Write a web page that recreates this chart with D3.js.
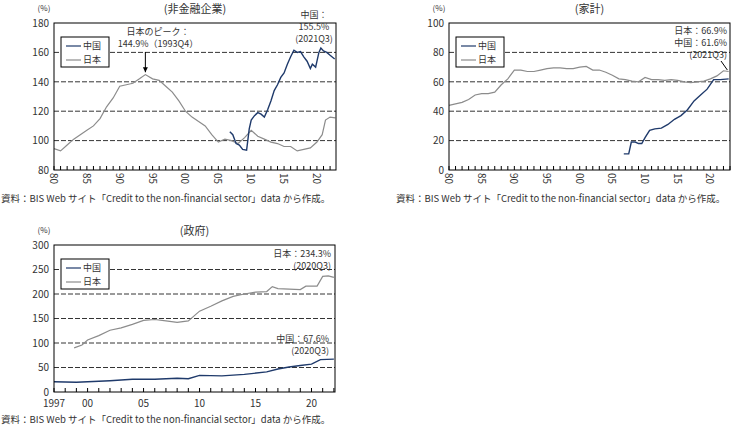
<!DOCTYPE html>
<html><head><meta charset="utf-8">
<script src="https://cdn.jsdelivr.net/npm/d3@7"></script>
<style>
body{margin:0;background:#fff;font-family:"Noto Sans CJK JP","Noto Sans",sans-serif;}
text{font-family:"Noto Sans CJK JP","Noto Sans",sans-serif;fill:#333;}
</style></head><body>
<svg id="c" width="752" height="428"></svg>
<script>
// data (year, %)
var nfJapan = [[1980,94.5],[1981,93],[1982,97],[1983,101],[1984,104],[1985,107],[1986,110],[1987,115],[1988,123],[1989,129],[1990,137],[1991,138],[1992,139],[1993,142],[1993.9,144.9],[1995,142],[1996,141],[1997,137],[1998,133],[1999,127],[2000,120],[2001,116],[2002,113],[2003,110],[2004,104],[2005,99],[2006,101],[2007,100],[2008,98],[2009,102],[2010,107],[2011,103],[2012,101],[2013,99],[2014,98],[2015,96],[2016,96],[2017,93],[2018,94],[2019,95],[2020,99],[2020.8,104],[2021.3,114],[2022,116],[2022.8,115.5]];
var nfChina = [[2006.75,106],[2007.2,104],[2007.7,98],[2008.2,97],[2008.7,94],[2009.3,93.5],[2009.7,108],[2010,114],[2010.5,117],[2011,119],[2011.5,118],[2012,116],[2012.5,121],[2013,127],[2013.5,134],[2014,138],[2014.5,143],[2015,146],[2015.5,152],[2016,157],[2016.5,161.5],[2017,160],[2017.5,160.5],[2018,157],[2018.5,154],[2019,149],[2019.3,152],[2019.8,150],[2020.3,160],[2020.6,163],[2021,161],[2021.5,160],[2022,158],[2022.7,155.5]];
var hhJapan = [[1980,44],[1981,45],[1982,46],[1983,48],[1984,51],[1985,52],[1986,52],[1987,53],[1988,58],[1989,62],[1990,68],[1991,68],[1992,67],[1993,67],[1994,68],[1995,69],[1996,69.5],[1997,69.5],[1998,69],[1999,69],[2000,70],[2001,70.5],[2002,68],[2003,68],[2004,66.5],[2005,64.5],[2006,62],[2007,61.5],[2008,60.5],[2009,60],[2010,63],[2011,61.5],[2012,61.5],[2013,61],[2014,61.5],[2015,61],[2016,60],[2017,59.5],[2018,60],[2019,60.5],[2020,62],[2021,64],[2022,67.5],[2022.8,67]];
var hhChina = [[2006.75,11],[2007.5,11],[2007.9,19],[2008.5,19],[2009,18],[2009.5,18],[2010,22],[2010.7,27],[2011.5,28],[2012.5,28.5],[2013.5,31],[2014.5,34.5],[2015.5,37],[2016.5,41],[2017.5,47],[2018.5,51],[2019.5,55],[2020.5,61.5],[2021.5,61.5],[2022.8,62]];
var gvJapan = [[1998.8,90],[1999.5,96],[2000,106],[2001,115],[2002,126],[2003,131],[2004,138],[2005,146],[2006,148],[2007,145],[2008,142],[2009,145],[2010,165],[2011,175],[2012,186],[2013,195],[2014,200],[2015,204],[2016,205],[2016.5,215],[2017,211],[2018,210],[2019,209],[2019.5,216],[2020.5,216],[2021,236],[2021.5,237],[2022,234]];
var gvChina = [[1997,21],[1999,20],[2000,21],[2002,23],[2004,26],[2006,26],[2008,28],[2009,27],[2010,34],[2012,33],[2014,36],[2016,41],[2017,47],[2018,51],[2019,54],[2020,57],[2020.8,66],[2022,67]];
var seriesNames = ['中国','日本'];
var source = '資料：BIS Web サイト「Credit to the non-financial sector」data から作成。';

var cChina = '#1f3a6b', cJapan = '#8c8c8c';
var svg = d3.select('#c');

function panel(o){
  var g = svg.append('g');
  var x = d3.scaleLinear().domain(o.xd).range([o.x0,o.x1]);
  var y = d3.scaleLinear().domain(o.yd).range([o.y1,o.y0]);
  o.yt.forEach(function(v){
    if (v==o.yd[0]||v==o.yd[1]) return;
    g.append('line').attr('x1',o.x0).attr('x2',o.x1).attr('y1',y(v)).attr('y2',y(v))
      .attr('stroke','#000').attr('stroke-width',0.8).attr('stroke-dasharray','5,2');
  });
  var line = d3.line().x(function(d){return x(d[0]);}).y(function(d){return y(d[1]);});
  g.append('path').attr('d',line(o.jp)).attr('fill','none').attr('stroke',cJapan).attr('stroke-width',1.2);
  g.append('path').attr('d',line(o.cn)).attr('fill','none').attr('stroke',cChina).attr('stroke-width',1.4);
  g.append('rect').attr('x',o.x0).attr('y',o.y0).attr('width',o.x1-o.x0).attr('height',o.y1-o.y0)
    .attr('fill','none').attr('stroke','#000').attr('stroke-width',1);
  var ya = g.append('g').attr('transform','translate('+o.x0+',0)')
    .call(d3.axisLeft(y).tickValues(o.yt).tickSize(0).tickPadding(5));
  ya.select('.domain').remove();
  ya.selectAll('text').attr('font-size',10).attr('fill','#333');
  // minor yearly ticks
  d3.range(Math.ceil(o.xd[0]),Math.floor(o.xd[1])+1).forEach(function(yr){
    g.append('line').attr('x1',x(yr)).attr('x2',x(yr)).attr('y1',o.y1).attr('y2',o.y1-4).attr('stroke','#000');
  });
  o.xt.forEach(function(yr){
    var lab = (yr==1997)?'1997':String(yr%100).padStart(2,'0');
    var t = g.append('text').attr('font-size',10);
    if (o.rot) t.attr('transform','translate('+(x(yr)-4)+','+(o.y1+3)+') rotate(90)').text(lab);
    else t.attr('x',x(yr)).attr('y',o.y1+15).attr('text-anchor','middle').text(lab);
  });
  g.append('text').attr('x',o.x0-10).attr('y',o.y0-12).attr('text-anchor','middle').attr('font-size',8).text('(%)');
  g.append('text').attr('x',(o.x0+o.x1)/2).attr('y',o.y0-10).attr('text-anchor','middle').attr('font-size',11).text(o.title);
  // legend
  var lg = g.append('g').attr('transform','translate('+(o.x0+7)+','+(o.y0+14)+')');
  lg.append('rect').attr('width',48).attr('height',30).attr('fill','#fff').attr('stroke','#000');
  [cChina,cJapan].forEach(function(c,i){
    lg.append('line').attr('x1',5).attr('x2',20).attr('y1',9+i*14).attr('y2',9+i*14).attr('stroke',c).attr('stroke-width',1.2);
    lg.append('text').attr('x',22).attr('y',12+i*14).attr('font-size',9).text(seriesNames[i]);
  });
  o.notes.forEach(function(n){
    n.lines.forEach(function(s,i){
      g.append('text').attr('x',n.x).attr('y',n.y+i*12).attr('text-anchor',n.a||'middle').attr('font-size',9).text(s);
    });
  });
  g.append('text').attr('x',o.x0-53).attr('y',o.src).attr('font-size',9.5).text(source);
  return {g:g,x:x,y:y};
}

var p1 = panel({x0:54,x1:336,y0:23,y1:170,xd:[1980,2022.9],yd:[80,180],yt:[80,100,120,140,160,180],
  xt:[1980,1985,1990,1995,2000,2005,2010,2015,2020],rot:true,jp:nfJapan,cn:nfChina,title:'(非金融企業)',src:202,
  notes:[{x:158,y:35,lines:['日本のピーク：','144.9%（1993Q4）']},{x:314,y:18,lines:['中国：','155.5%','(2021Q3)']}]});
p1.g.append('line').attr('x1',p1.x(1993.9)).attr('x2',p1.x(1993.9)).attr('y1',52).attr('y2',p1.y(146.5)).attr('stroke','#000');
p1.g.append('path').attr('d','M'+(p1.x(1993.9)-2.5)+','+(p1.y(146.5)-5)+'l2.5,5l2.5,-5z').attr('fill','#000');

var p2 = panel({x0:449,x1:730,y0:23,y1:170,xd:[1980,2023],yd:[0,100],yt:[0,20,40,60,80,100],
  xt:[1980,1985,1990,1995,2000,2005,2010,2015,2020],rot:true,jp:hhJapan,cn:hhChina,title:'(家計)',src:202,
  notes:[{x:727,y:34,a:'end',lines:['日本：66.9%','中国：61.6%','(2021Q3)']}]});
p2.g.append('line').attr('x1',721).attr('y1',61).attr('x2',p2.x(2022.6)).attr('y2',p2.y(68)).attr('stroke','#000');

var p3 = panel({x0:54,x1:335,y0:245,y1:392,xd:[1997,2022.1],yd:[0,300],yt:[0,50,100,150,200,250,300],
  xt:[1997,2000,2005,2010,2015,2020],rot:false,jp:gvJapan,cn:gvChina,title:'(政府)',src:423,
  notes:[{x:331,y:257,a:'end',lines:['日本：234.3%','(2020Q3)']},{x:329,y:342,a:'end',lines:['中国：67.6%','(2020Q3)']}]});
</script></body></html>
